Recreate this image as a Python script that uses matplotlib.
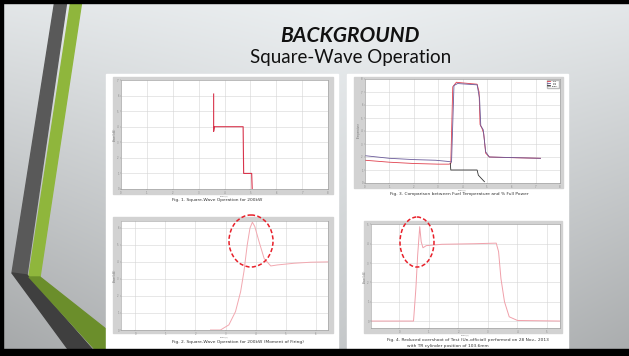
import numpy as np
import matplotlib
matplotlib.use("Agg")
import matplotlib.pyplot as plt
from matplotlib.patches import Polygon, Rectangle, Ellipse

# ---- values ----
# Fig. 1: square-wave power
fig1_t = [3.58, 3.58, 3.61, 4.72, 4.74, 5.05, 5.07]
fig1_p = [6.1, 3.7, 4.0, 4.0, 1.0, 1.0, 0.0]

# Fig. 3: fuel temperature vs % full power
fig3_t_red = [0, 1, 2, 3, 3.45, 3.52, 3.6, 3.75, 4.0, 4.3, 4.6, 4.68, 4.72, 4.8, 4.87, 4.95, 5.1, 6, 7.2]
fig3_red = [1.75, 1.6, 1.5, 1.45, 1.45, 1.5, 7.4, 7.75, 7.7, 7.65, 7.6, 7.0, 4.5, 4.2, 3.8, 2.3, 2.0, 1.95, 1.9]
fig3_t_blue = [0, 1, 2, 2.9, 3.45, 3.55, 3.65, 3.8, 4.6, 4.7, 4.75, 4.85, 4.95, 5.1, 7.2]
fig3_blue = [2.1, 1.9, 1.8, 1.75, 1.65, 1.6, 7.5, 7.65, 7.55, 6.5, 4.4, 4.1, 2.4, 2.0, 1.9]
fig3_t_black = [3.5, 3.52, 4.6, 4.65, 4.85, 4.9]
fig3_black = [1.5, 1.0, 1.0, 0.6, 0.2, 0.1]
fig3_labels = ["TC1", "TC2", "TC3", "Power"]

# Fig. 2: moment of firing
fig2_t = [2.5, 2.83, 3.11, 3.33, 3.5, 3.61, 3.72, 3.81, 3.89, 3.97, 4.11, 4.28, 4.5, 4.72, 5.28, 5.83, 6.4]
fig2_p = [0, 0, 0.3, 1.08, 2.25, 3.43, 5.0, 5.98, 6.33, 6.08, 5.2, 4.2, 3.76, 3.82, 3.92, 3.98, 4.0]

# Fig. 4: reduced overshoot test
fig4_t = [-0.94, 0.48, 0.56, 0.62, 0.69, 0.74, 0.8, 0.91, 1.44, 2.56, 3.28, 3.36, 3.44, 3.56, 3.72, 4.0, 5.44]
fig4_p = [0, 0, 1.69, 3.41, 4.88, 4.1, 3.79, 3.9, 3.97, 4.0, 4.03, 3.59, 2.2, 1.0, 0.22, 0.03, 0]

W, H = 629, 356


def box(l, t, r, b):
    return [l / W, 1 - b / H, (r - l) / W, (b - t) / H]


fig = plt.figure(figsize=(6.29, 3.56), dpi=100)

bg = fig.add_axes([0, 0, 1, 1])
bg.set_xlim(0, W)
bg.set_ylim(H, 0)
bg.axis("off")

# slide background gradient
yy, xx = np.mgrid[0:H, 0:W]
lum = 0.94 - 0.16 * (yy / H) - 0.09 * (np.abs(xx - 340) / 340) * (0.4 + yy / H)
img = np.dstack([lum * 0.985, lum, lum * 1.008]).clip(0, 1)
bg.imshow(img, extent=(0, W, H, 0), aspect="auto", zorder=0)

# left decoration stripes
bg.add_patch(Polygon([(55, 0), (67, 0), (27, 275), (12, 273)], color="#595959", zorder=1))
bg.add_patch(Polygon([(71, 0), (82, 0), (40, 277), (29, 276)], color="#8fb63c", zorder=1))
bg.add_patch(Polygon([(12, 273), (27, 275), (98, 356), (73, 356)], color="#3f3f3f", zorder=1))
bg.add_patch(Polygon([(29, 277), (40, 277), (140, 356), (101, 356)], color="#6b8e2b", zorder=1))

# white panels
bg.add_patch(Rectangle((106, 74), 232, 278, color="white", zorder=2))
bg.add_patch(Rectangle((347, 74), 221, 278, color="white", zorder=2))

# slide border
bg.add_patch(Rectangle((0, 0), W, 2.5, color="black", zorder=5))
bg.add_patch(Rectangle((0, 0), 2.5, H, color="black", zorder=5))
bg.add_patch(Rectangle((0, 349), W, 7, color="black", zorder=5))

# title
bg.text(350, 36, "BACKGROUND", ha="center", va="center", fontsize=15,
        fontweight="bold", fontstyle="italic", family="Lato", color="#111111", zorder=3)
bg.text(351, 57, "Square-Wave Operation", ha="center", va="center", fontsize=13.5,
        family="Lato", color="#111111", zorder=3)


def plot_axes(frame, area, xlim, ylim, xt, yt, ylab):
    l, t, r, b = frame
    bg.add_patch(Rectangle((l, t), r - l, b - t, color="#d2d2d2", zorder=3))
    ax = fig.add_axes(box(*area))
    ax.set_xlim(*xlim)
    ax.set_ylim(*ylim)
    ax.set_xticks(xt)
    ax.set_yticks(yt)
    ax.grid(True, color="#d4d4d4", lw=0.4)
    ax.set_axisbelow(True)
    for s in ax.spines.values():
        s.set_color("#9a9a9a")
        s.set_linewidth(0.4)
    ax.tick_params(labelsize=1.8, colors="#888888", length=1, width=0.3, pad=0.5)
    ax.set_ylabel(ylab, fontsize=1.8, color="#777777", labelpad=0.5)
    ax.set_xlabel("Time(s)", fontsize=1.6, color="#777777", labelpad=0)
    return ax


ax1 = plot_axes((113, 77, 333, 194), (121, 80, 328, 189), (0, 8), (0, 7),
                range(0, 9), range(0, 8), "Power(kW)")
ax1.plot(fig1_t, fig1_p, color="#d8344c", lw=0.8)

ax3 = plot_axes((354, 77, 563, 188), (365, 79, 560, 183), (0, 8), (0, 8),
                range(0, 9), range(0, 9), "Temperature")
ax3.plot(fig3_t_red, fig3_red, color="#e0404e", lw=0.6, label=fig3_labels[0])
ax3.plot(fig3_t_blue, fig3_blue, color="#6a5a9a", lw=0.6, label=fig3_labels[1])
ax3.plot(fig3_t_black, fig3_black, color="#333333", lw=0.6, label=fig3_labels[2])
ax3.plot([], [], color="#999999", lw=0.6, label=fig3_labels[3])
ax3.legend(loc="upper right", fontsize=1.5, handlelength=1.5, borderpad=0.3,
           labelspacing=0.1, frameon=True, fancybox=False, edgecolor="#aaaaaa")

ax2 = plot_axes((113, 217, 333, 333), (121, 221, 328, 330), (-0.47, 6.4), (0, 6.4),
                range(0, 7), range(0, 7), "Power(kW)")
ax2.plot(fig2_t, fig2_p, color="#f2a8b0", lw=0.7)

ax4 = plot_axes((364, 221, 562, 333), (371, 224, 560, 328), (-0.96, 5.44), (-0.36, 5.02),
                range(0, 6), range(0, 6), "Power(kW)")
ax4.plot(fig4_t, fig4_p, color="#f0a0aa", lw=0.7)

# captions
cap = dict(ha="center", va="center", fontsize=3.2, color="#333333", zorder=4)
bg.text(217, 200, "Fig. 1. Square-Wave Operation for 200kW", **cap)
bg.text(459, 193.5, "Fig. 3. Comparison between Fuel Temperature and % Full Power", **cap)
bg.text(238, 341.5, "Fig. 2. Square-Wave Operation for 200kW (Moment of Firing)", **cap)
bg.text(468, 339.5, "Fig. 4. Reduced overshoot of Test (Un-official) performed on 28 Nov., 2013", **cap)
bg.text(448, 345.5, "with TR cylinder position of 103.6mm", **cap)

# dashed highlight ellipses
ov = fig.add_axes([0, 0, 1, 1], zorder=10)
ov.set_xlim(0, W)
ov.set_ylim(H, 0)
ov.axis("off")
ov.patch.set_alpha(0)
ov.add_patch(Ellipse((251, 241), 44, 52, fill=False, ec="#e8202a", lw=1.1, ls=(0, (2.7, 1.5))))
ov.add_patch(Ellipse((417, 242), 34, 50, fill=False, ec="#e8202a", lw=1.1, ls=(0, (2.7, 1.5))))

fig.savefig("out.png", dpi=100)
